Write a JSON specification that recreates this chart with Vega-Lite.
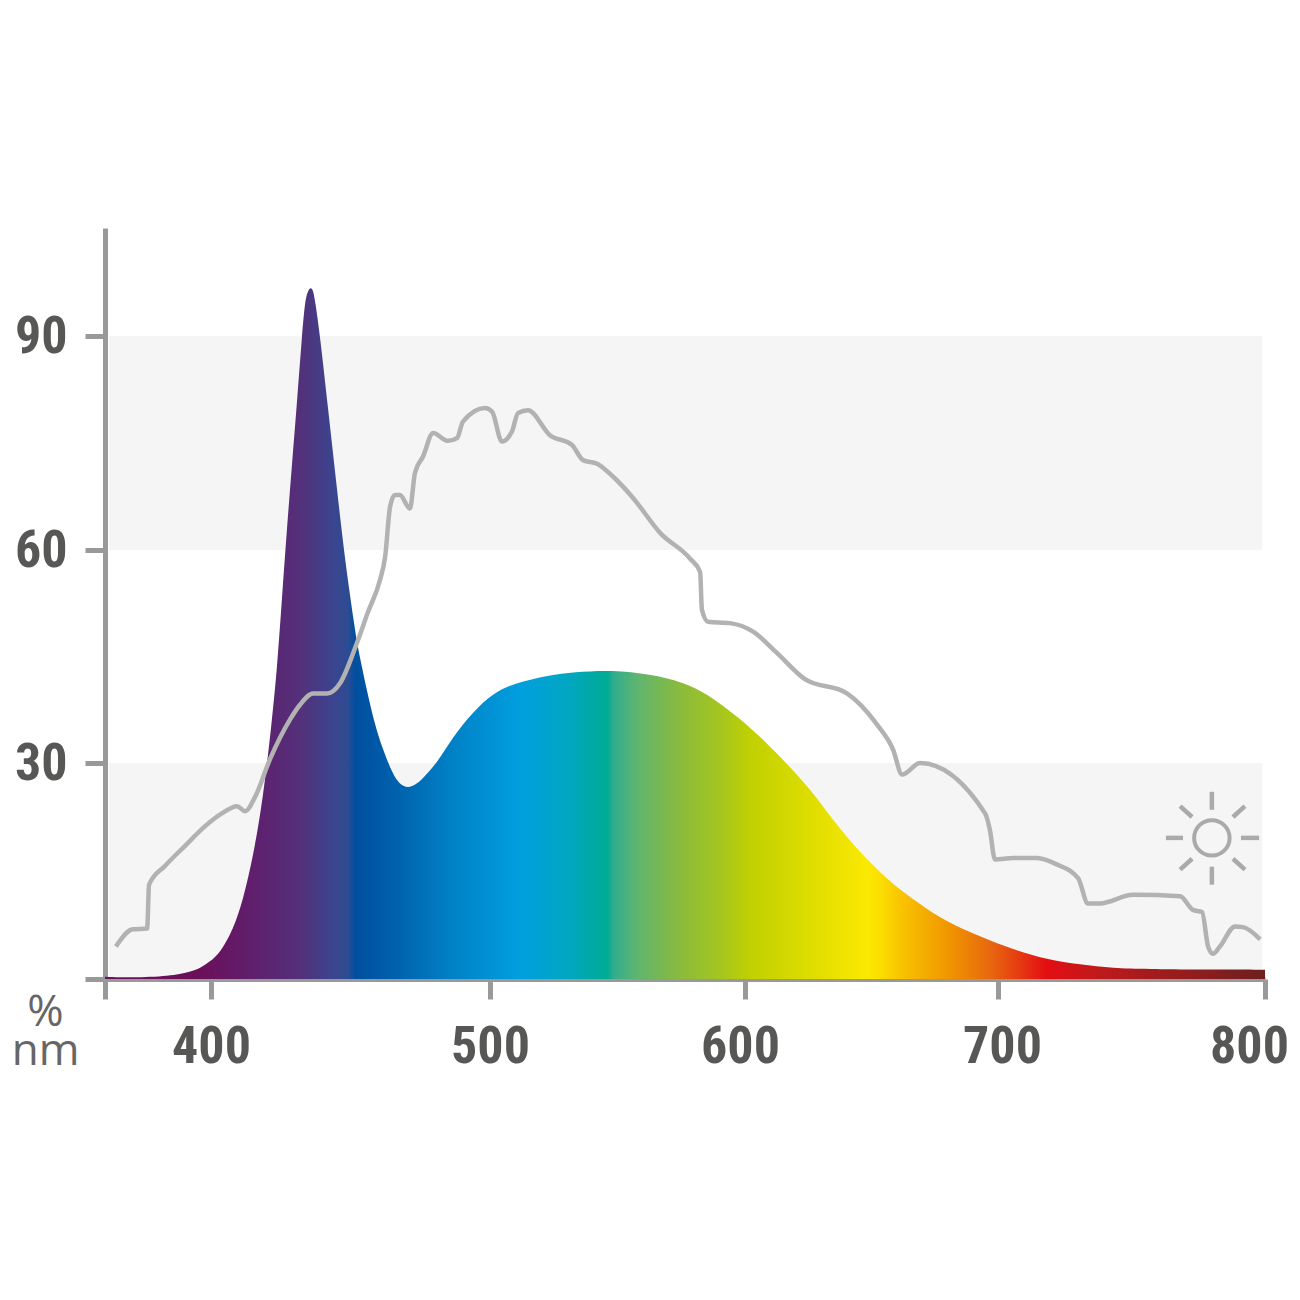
{
  "$schema": "https://vega.github.io/schema/vega-lite/v6.json",
  "width": 1160,
  "height": 751,
  "autosize": "none",
  "padding": {"left": 105, "top": 228, "right": 35, "bottom": 321},
  "background": "white",
  "view": {"stroke": null},
  "config": {
    "axis": {
      "domainColor": "#999999", "domainWidth": 5, "tickColor": "#999999", "tickWidth": 5, "tickSize": 20,
      "grid": false, "labelFont": "Roboto Condensed, Roboto", "labelFontWeight": "bold", "labelFontSize": 52,
      "labelColor": "#575756", "labelOverlap": false, "labelFlush": false, "labelBound": false, "zindex": 1
    }
  },
  "layer": [
    {
      "data": {"values": [
        {"low": 0, "high": 30, "start": 363.5, "end": 799},
        {"low": 60, "high": 90, "start": 363.5, "end": 799}
      ]},
      "mark": {"type": "rect", "color": "#f5f5f5"},
      "encoding": {
        "x": {
          "field": "start", "type": "quantitative",
          "scale": {"domain": [362, 400, 500, 600, 700, 800], "range": [0, 106, 385, 640, 893, 1160], "nice": false},
          "axis": {
            "values": [362, 400, 500, 600, 700, 800],
            "labelExpr": "datum.value == 362 ? '' : datum.value",
            "labelOffset": {"expr": "datum.value == 800 ? -16 : datum.value == 700 ? 4 : datum.value == 600 ? -5 : 0"},
            "labelPadding": 22,
            "title": ["%", "nm"],
            "titleFont": "Open Sans", "titleFontWeight": "normal", "titleFontSize": 44, "titleColor": "#666666",
            "titleLineHeight": 39, "titleAlign": "center", "titleAnchor": "start", "titleBaseline": "alphabetic",
            "titleX": -60, "titleY": 46
          }
        },
        "x2": {"field": "end"},
        "y": {
          "field": "low", "type": "quantitative",
          "scale": {"domain": [0, 30, 60, 90, 105.1], "range": [751, 535, 322, 108, 0], "nice": false},
          "axis": {
            "values": [0, 30, 60, 90],
            "labelExpr": "datum.value == 0 ? '' : datum.value",
            "labelPadding": 18,
            "title": null
          }
        },
        "y2": {"field": "high"}
      }
    },
    {
      "data": {"values": [
        {"nm": 362, "pct": 0.3}, {"nm": 371, "pct": 0.2}, {"nm": 385.3, "pct": 0.4}, {"nm": 392.5, "pct": 1},
        {"nm": 396.1, "pct": 1.5}, {"nm": 399.6, "pct": 2.4}, {"nm": 403.2, "pct": 3.6}, {"nm": 407.9, "pct": 6.8},
        {"nm": 411.5, "pct": 11}, {"nm": 415.1, "pct": 17}, {"nm": 418.6, "pct": 24.9}, {"nm": 421.9, "pct": 36.1},
        {"nm": 423.7, "pct": 43.5}, {"nm": 425.4, "pct": 53}, {"nm": 427.2, "pct": 62.9}, {"nm": 429, "pct": 71.9},
        {"nm": 430.8, "pct": 80.6}, {"nm": 432.6, "pct": 90}, {"nm": 433.7, "pct": 95}, {"nm": 434.8, "pct": 96.4},
        {"nm": 435.8, "pct": 96.8}, {"nm": 436.6, "pct": 96.4}, {"nm": 437.3, "pct": 95}, {"nm": 439.1, "pct": 90},
        {"nm": 441.9, "pct": 80}, {"nm": 445.2, "pct": 68.4}, {"nm": 448, "pct": 58.6}, {"nm": 451.6, "pct": 48.8},
        {"nm": 452.7, "pct": 46}, {"nm": 458.1, "pct": 36.1}, {"nm": 461.6, "pct": 31.9}, {"nm": 465.2, "pct": 28.4},
        {"nm": 467.7, "pct": 27}, {"nm": 470.6, "pct": 26.5}, {"nm": 473.5, "pct": 27}, {"nm": 476, "pct": 27.9},
        {"nm": 481, "pct": 30}, {"nm": 486.7, "pct": 33.7}, {"nm": 493.9, "pct": 37.2}, {"nm": 501.2, "pct": 39.8},
        {"nm": 509, "pct": 41.2}, {"nm": 523.5, "pct": 42.4}, {"nm": 532.5, "pct": 42.8}, {"nm": 548.2, "pct": 43.1},
        {"nm": 562.7, "pct": 42.5}, {"nm": 575.7, "pct": 41.4}, {"nm": 585.1, "pct": 39.8}, {"nm": 598, "pct": 36.3},
        {"nm": 608.7, "pct": 32.8}, {"nm": 619, "pct": 29}, {"nm": 626.9, "pct": 25.9}, {"nm": 637.5, "pct": 20.8},
        {"nm": 648.2, "pct": 16.6}, {"nm": 658.5, "pct": 13.1}, {"nm": 669.2, "pct": 10.4}, {"nm": 679.8, "pct": 7.9},
        {"nm": 692.9, "pct": 5.9}, {"nm": 705.6, "pct": 4.1}, {"nm": 718.4, "pct": 2.7}, {"nm": 730.7, "pct": 2},
        {"nm": 743.1, "pct": 1.5}, {"nm": 755.8, "pct": 1.4}, {"nm": 775.7, "pct": 1.3}, {"nm": 800, "pct": 1.3}
      ]},
      "mark": {
        "type": "area",
        "interpolate": "basis",
        "color": {
          "gradient": "linear", "x1": 0, "y1": 0, "x2": 1, "y2": 0,
          "stops": [
            {"offset": 0, "color": "#6b1060"},
            {"offset": 0.082, "color": "#6b0f5a"},
            {"offset": 0.125, "color": "#601e6c"},
            {"offset": 0.168, "color": "#54307a"},
            {"offset": 0.198, "color": "#3a4590"},
            {"offset": 0.209, "color": "#2d4c92"},
            {"offset": 0.216, "color": "#004f9f"},
            {"offset": 0.254, "color": "#0063ae"},
            {"offset": 0.297, "color": "#0080c5"},
            {"offset": 0.358, "color": "#009fdf"},
            {"offset": 0.401, "color": "#00a7bf"},
            {"offset": 0.433, "color": "#00ab94"},
            {"offset": 0.439, "color": "#33ad8c"},
            {"offset": 0.459, "color": "#5fb56f"},
            {"offset": 0.496, "color": "#8abb3c"},
            {"offset": 0.534, "color": "#a8c71c"},
            {"offset": 0.556, "color": "#c0d002"},
            {"offset": 0.591, "color": "#d4d900"},
            {"offset": 0.657, "color": "#fbe900"},
            {"offset": 0.668, "color": "#fbdf00"},
            {"offset": 0.685, "color": "#f9c500"},
            {"offset": 0.728, "color": "#f09500"},
            {"offset": 0.763, "color": "#e8680f"},
            {"offset": 0.812, "color": "#e30e13"},
            {"offset": 0.858, "color": "#bd1a1b"},
            {"offset": 1, "color": "#6d1f20"}
          ]
        }
      },
      "encoding": {
        "x": {"field": "nm", "type": "quantitative"},
        "y": {"field": "pct", "type": "quantitative"}
      }
    },
    {
      "data": {"values": [
        {"nm": 365.9, "pct": 4.5}, {"nm": 372, "pct": 6.9}, {"nm": 377.1, "pct": 7}, {"nm": 377.8, "pct": 13.1},
        {"nm": 383.5, "pct": 15.7}, {"nm": 390.7, "pct": 18.5}, {"nm": 397.8, "pct": 21.2}, {"nm": 403.9, "pct": 23},
        {"nm": 409.3, "pct": 24}, {"nm": 412.2, "pct": 23.3}, {"nm": 415.8, "pct": 25.3}, {"nm": 421.1, "pct": 30.5},
        {"nm": 428.3, "pct": 36.1}, {"nm": 431.9, "pct": 38.2}, {"nm": 436.6, "pct": 39.8}, {"nm": 441.6, "pct": 39.8},
        {"nm": 446.2, "pct": 41.2}, {"nm": 452.3, "pct": 46.9}, {"nm": 456.3, "pct": 51.3}, {"nm": 460.6, "pct": 55.8},
        {"nm": 462.4, "pct": 59}, {"nm": 464.2, "pct": 66.1}, {"nm": 465.9, "pct": 67.7}, {"nm": 467.7, "pct": 67.7},
        {"nm": 471.3, "pct": 65.8}, {"nm": 473.1, "pct": 70.8}, {"nm": 476, "pct": 73.1}, {"nm": 479.6, "pct": 76.4},
        {"nm": 484.9, "pct": 75.3}, {"nm": 488.2, "pct": 75.7}, {"nm": 490.3, "pct": 78}, {"nm": 498.2, "pct": 79.9},
        {"nm": 500.8, "pct": 79.4}, {"nm": 504.7, "pct": 75.2}, {"nm": 508.6, "pct": 76.6}, {"nm": 511, "pct": 79.2},
        {"nm": 514.9, "pct": 79.6}, {"nm": 523.5, "pct": 76.1}, {"nm": 532.2, "pct": 74.7}, {"nm": 536.5, "pct": 72.6},
        {"nm": 542, "pct": 72.1}, {"nm": 548.2, "pct": 70.3}, {"nm": 556.1, "pct": 67.3}, {"nm": 566.7, "pct": 62.4},
        {"nm": 578.4, "pct": 58.8}, {"nm": 582.4, "pct": 56.9}, {"nm": 583.1, "pct": 51.6}, {"nm": 585.5, "pct": 49.9},
        {"nm": 594.1, "pct": 49.7}, {"nm": 603.2, "pct": 48.5}, {"nm": 612.6, "pct": 45.5}, {"nm": 623.7, "pct": 41.8},
        {"nm": 640.3, "pct": 39.8}, {"nm": 652.2, "pct": 35.4}, {"nm": 658.5, "pct": 31.9}, {"nm": 662.1, "pct": 28.4},
        {"nm": 669.2, "pct": 30}, {"nm": 694.9, "pct": 23}, {"nm": 696.8, "pct": 20.7}, {"nm": 698.8, "pct": 16.6},
        {"nm": 705.6, "pct": 16.8}, {"nm": 714.6, "pct": 16.8}, {"nm": 722.1, "pct": 15.9}, {"nm": 730, "pct": 14},
        {"nm": 733.7, "pct": 10.5}, {"nm": 738.2, "pct": 10.5}, {"nm": 750.6, "pct": 11.7}, {"nm": 768.2, "pct": 11.5},
        {"nm": 773, "pct": 9.6}, {"nm": 776.4, "pct": 9.3}, {"nm": 778.7, "pct": 4.5}, {"nm": 780.5, "pct": 3.5},
        {"nm": 783.1, "pct": 4.5}, {"nm": 788.8, "pct": 7.3}, {"nm": 791.8, "pct": 7.2}, {"nm": 798.2, "pct": 5.5}
      ]},
      "mark": {"type": "line", "interpolate": "monotone", "color": "#b2b2b2", "strokeWidth": 4.5},
      "encoding": {
        "x": {"field": "nm", "type": "quantitative"},
        "y": {"field": "pct", "type": "quantitative"}
      }
    },
    {
      "data": {"values": [{"nm": 780.1, "pct": 19.6}]},
      "mark": {"type": "point", "filled": false, "shape": "circle", "size": 1256, "color": "#aaaaaa", "strokeWidth": 4, "opacity": 1},
      "encoding": {
        "x": {"field": "nm", "type": "quantitative"},
        "y": {"field": "pct", "type": "quantitative"}
      }
    },
    {
      "data": {"values": [
        {"x0": 780.1, "x1": 780.1, "y0": 26, "y1": 23.5},
        {"x0": 780.1, "x1": 780.1, "y0": 15.6, "y1": 13.1},
        {"x0": 762.9, "x1": 769.3, "y0": 19.6, "y1": 19.6},
        {"x0": 791, "x1": 797.8, "y0": 19.6, "y1": 19.6},
        {"x0": 768.2, "x1": 772.7, "y0": 24, "y1": 22.5},
        {"x0": 792.5, "x1": 788, "y0": 24, "y1": 22.5},
        {"x0": 768.2, "x1": 772.7, "y0": 15.2, "y1": 16.7},
        {"x0": 792.5, "x1": 788, "y0": 15.2, "y1": 16.7}
      ]},
      "mark": {"type": "rule", "color": "#aaaaaa", "strokeWidth": 4.5},
      "encoding": {
        "x": {"field": "x0", "type": "quantitative"},
        "x2": {"field": "x1"},
        "y": {"field": "y0", "type": "quantitative"},
        "y2": {"field": "y1"}
      }
    }
  ]
}
